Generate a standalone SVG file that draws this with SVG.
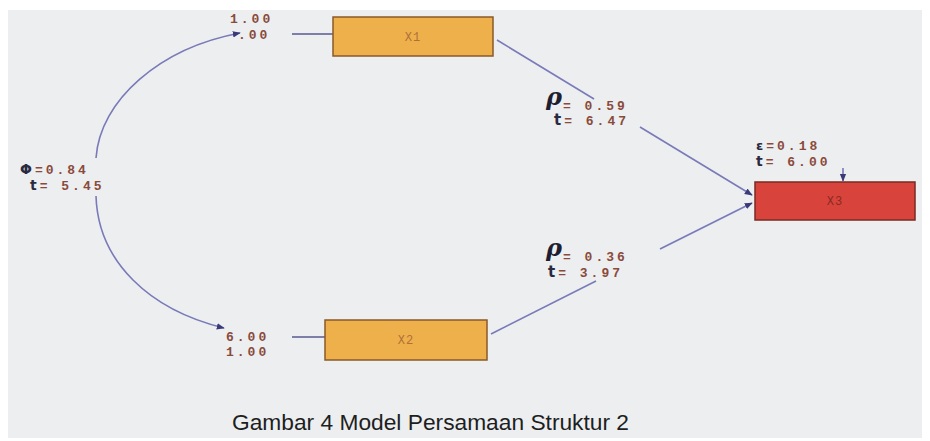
<svg xmlns="http://www.w3.org/2000/svg" width="930" height="441" viewBox="0 0 930 441">
  <style>
    .box-x { fill: #eeb04a; stroke: #8a5a2a; stroke-width: 1.5; }
    .box-y { fill: #d8443c; stroke: #7a2a22; stroke-width: 1.5; }
    .name { font-family: "Liberation Mono", monospace; font-size: 12px; fill: #b0703a; text-anchor: middle; letter-spacing: 1px; }
    .name-y { fill: #8a2a22; }
    .val { font-family: "Liberation Mono", monospace; font-size: 13px; font-weight: bold; fill: #8a4a3a; letter-spacing: 3px; }
    .sym { font-family: "DejaVu Sans", sans-serif; font-weight: bold; fill: #2a2a40; }
    .rho { font-family: "DejaVu Serif", serif; font-style: italic; font-weight: bold; font-size: 24px; fill: #1e1e30; }
    .edge { fill: none; stroke: #7a7ab8; stroke-width: 1.6; }
    .stub { fill: none; stroke: #5a5a90; stroke-width: 1.4; }
    .caption { font-family: "Liberation Sans", Arial, sans-serif; font-size: 22px; fill: #1e1e1e; }
  </style>
  <defs>
    <marker id="arrow" viewBox="0 0 10 10" refX="9" refY="5" markerWidth="8" markerHeight="8" orient="auto" markerUnits="userSpaceOnUse">
      <path d="M0,1 L10,5 L0,9 Z" fill="#3a3a78"/>
    </marker>
  </defs>

  <!-- paper -->
  <rect x="0" y="0" width="930" height="441" fill="#ffffff"/>
  <rect x="8" y="10" width="914" height="428" fill="#eceef0"/>

  <!-- connectors -->
  <g id="connectors">
    <!-- covariance arc between X1 and X2 -->
    <path class="edge" d="M96,158 C100,100 160,48 240,33" marker-end="url(#arrow)"/>
    <path class="edge" d="M96,196 C98,262 150,310 224,328" marker-end="url(#arrow)"/>
    <!-- stubs to the exogenous boxes -->
    <line class="stub" x1="292" y1="34" x2="333" y2="34"/>
    <line class="stub" x1="292" y1="337" x2="325" y2="337"/>
    <!-- X1 -> X3 -->
    <line class="edge" x1="497" y1="40" x2="594" y2="99"/>
    <line class="edge" x1="640" y1="127" x2="752" y2="195" marker-end="url(#arrow)"/>
    <!-- X2 -> X3 -->
    <line class="edge" x1="491" y1="334" x2="596" y2="281"/>
    <line class="edge" x1="660" y1="249" x2="752" y2="203" marker-end="url(#arrow)"/>
    <!-- error term on X3 -->
    <line class="edge" x1="843" y1="168" x2="843" y2="181" marker-end="url(#arrow)"/>
  </g>

  <!-- nodes -->
  <g id="node-x1">
    <rect class="box-x" x="333" y="17" width="160" height="39"/>
    <text class="name" x="413" y="41">X1</text>
    <text class="val" x="230" y="23">1.00</text>
    <text class="val" x="238" y="39">.00</text>
  </g>
  <g id="node-x2">
    <rect class="box-x" x="325" y="320" width="162" height="40"/>
    <text class="name" x="406" y="344">X2</text>
    <text class="val" x="226" y="341">6.00</text>
    <text class="val" x="226" y="356">1.00</text>
  </g>
  <g id="node-x3">
    <rect class="box-y" x="755" y="182" width="160" height="38"/>
    <text class="name name-y" x="835" y="205">X3</text>
    <text class="val" x="756" y="150"><tspan class="sym" font-size="13">ε</tspan>=0.18</text>
    <text class="val" x="756" y="166"><tspan class="sym" font-size="14">t</tspan>= 6.00</text>
  </g>

  <!-- coefficient labels -->
  <g id="label-phi">
    <text class="val" x="20" y="174"><tspan class="sym" font-size="14">Φ</tspan>=0.84</text>
    <text class="val" x="30" y="190"><tspan class="sym" font-size="14">t</tspan>= 5.45</text>
  </g>
  <g id="label-x1-x3">
    <text class="rho" x="546" y="105">ρ</text>
    <text class="val" x="563" y="110">= 0.59</text>
    <text class="val" x="554" y="125"><tspan class="sym" font-size="15">t</tspan>= 6.47</text>
  </g>
  <g id="label-x2-x3">
    <text class="rho" x="546" y="256">ρ</text>
    <text class="val" x="563" y="261">= 0.36</text>
    <text class="val" x="548" y="277"><tspan class="sym" font-size="15">t</tspan>= 3.97</text>
  </g>

  <text class="caption" x="232" y="430" textLength="397" lengthAdjust="spacingAndGlyphs">Gambar 4  Model Persamaan Struktur 2</text>
</svg>
